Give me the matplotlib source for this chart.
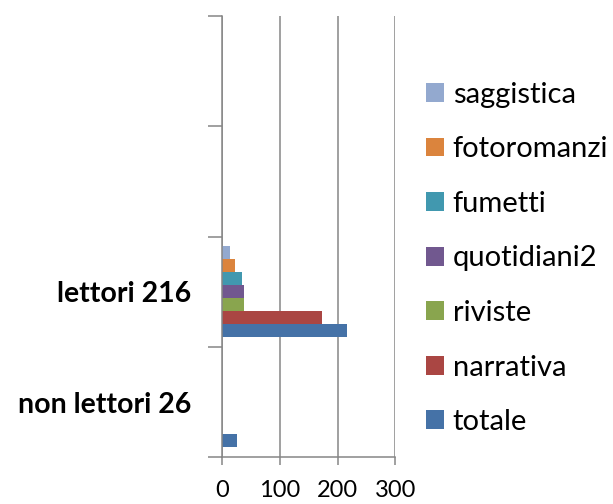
import numpy as np
import matplotlib.pyplot as plt
from matplotlib.patches import Patch

plt.rcParams['font.family'] = ['Lato', 'DejaVu Sans']

categories = ["non lettori 26", "lettori 216", "", ""]
series_names = ["totale", "narrativa", "riviste", "quotidiani2", "fumetti", "fotoromanzi", "saggistica"]
totale = [26, 216, 0, 0]
narrativa = [0, 173, 0, 0]
riviste = [0, 39, 0, 0]
quotidiani2 = [0, 38, 0, 0]
fumetti = [0, 35, 0, 0]
fotoromanzi = [0, 22, 0, 0]
saggistica = [0, 14, 0, 0]
colors = ["#4572A7", "#AA4643", "#89A54E", "#71588F", "#4198AF", "#DB843D", "#93A9CF"]

series = [totale, narrativa, riviste, quotidiani2, fumetti, fotoromanzi, saggistica]

fig = plt.figure(figsize=(6.13, 5.04), dpi=100)
ax = fig.add_axes([0.362, 0.0927, 0.283, 0.876])

grey = "#868686"
n = len(series)
group = 0.82
h = group / n
y = np.arange(len(categories))
for j, (vals, c) in enumerate(zip(series, colors)):
    ax.barh(y - group / 2 + h * (j + 0.5), vals, height=h, color=c, linewidth=0)

ax.set_xlim(0, 300)
ax.set_xticks([0, 100, 200, 300])
ax.set_ylim(-0.5, len(categories) - 0.5)
ax.set_yticks(np.arange(len(categories) + 1) - 0.5, minor=False)
ax.set_yticklabels([])
ax.set_yticks(y, minor=True)
ax.set_yticklabels(categories, minor=True, fontsize=20.5, fontweight='bold')
ax.tick_params(axis='y', which='major', length=10, width=1.1, color=grey, direction='out')
ax.tick_params(axis='y', which='minor', length=0, pad=22)
ax.tick_params(axis='x', length=6, width=1.1, color=grey, labelsize=17, pad=10)

ax.grid(axis='x', color=grey, linewidth=1.1)
ax.set_axisbelow(True)
for s in ['top', 'right']:
    ax.spines[s].set_visible(False)
for s in ['left', 'bottom']:
    ax.spines[s].set_color(grey)
    ax.spines[s].set_linewidth(1.1)

handles = [Patch(facecolor=c, label=nm) for nm, c in zip(series_names, colors)][::-1]
fig.legend(handles=handles, loc='upper left', bbox_to_anchor=(0.695, 0.838),
           frameon=False, fontsize=21, handlelength=0.62, handleheight=0.62,
           handletextpad=0.3, labelspacing=0.98, borderaxespad=0, borderpad=0)

fig.savefig("out.png", dpi=100)
